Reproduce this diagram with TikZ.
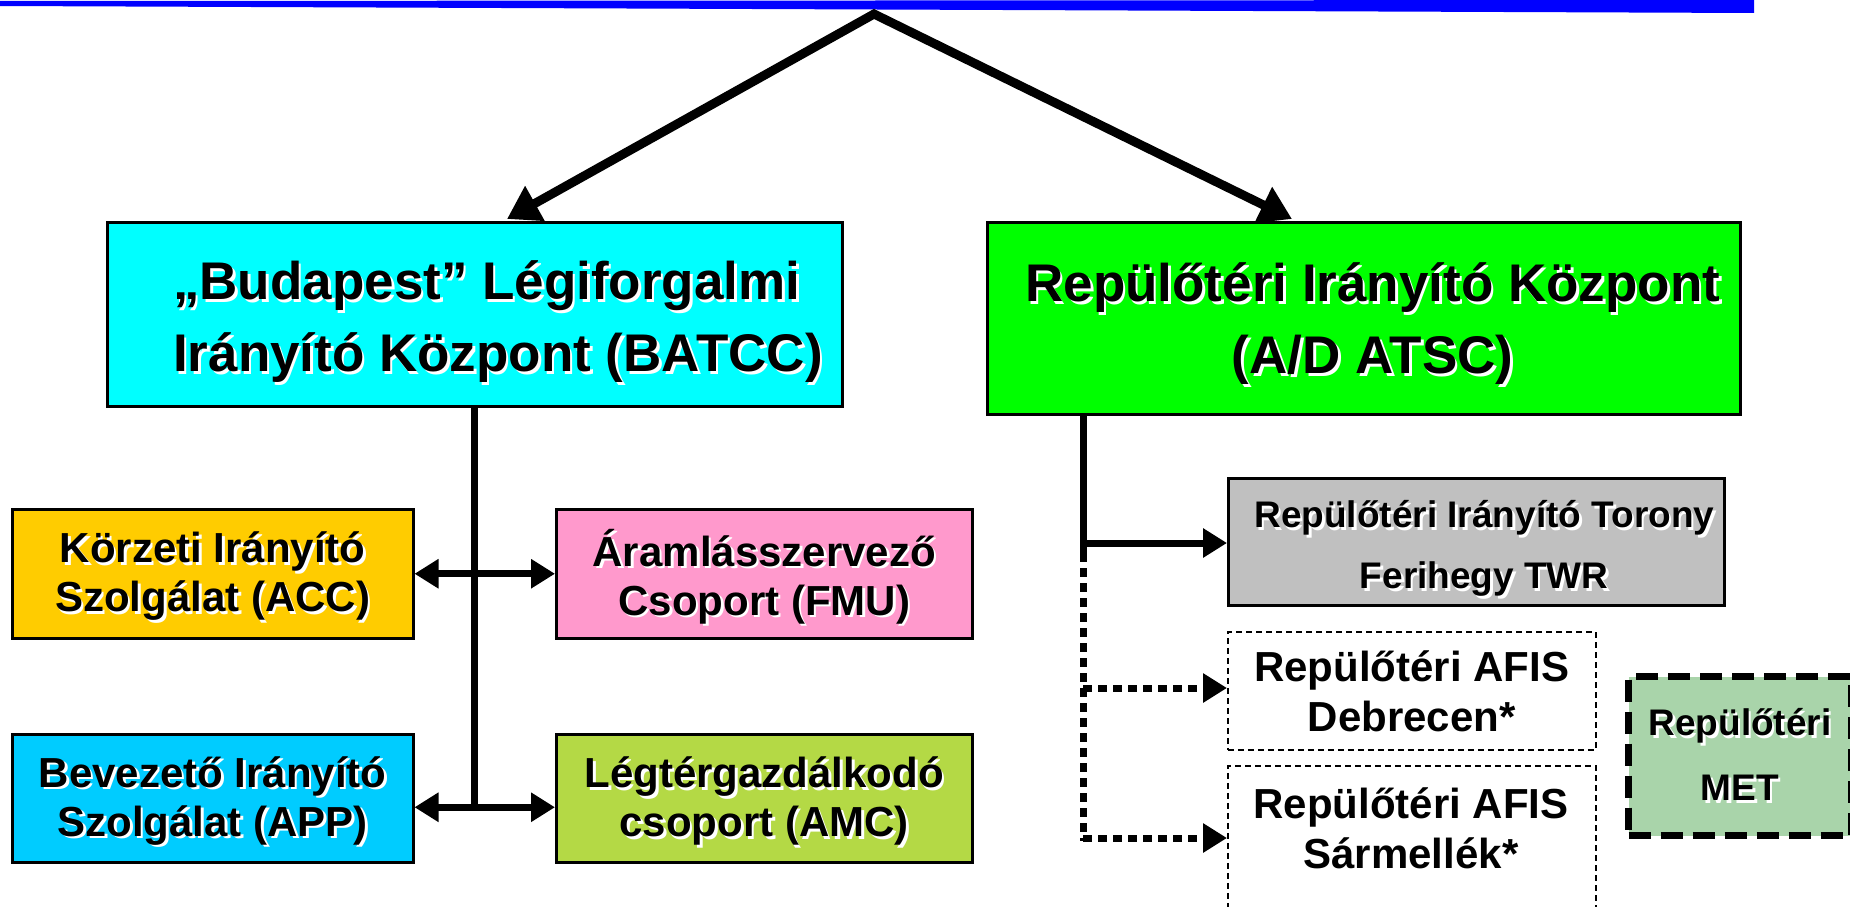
\documentclass[tikz,border=0pt]{standalone}
\usepackage{fontspec}
\setmainfont{Liberation Sans}
\usetikzlibrary{arrows.meta}
\definecolor{cbatcc}{RGB}{0,255,255}
\definecolor{cad}{RGB}{0,255,0}
\definecolor{cacc}{RGB}{255,204,0}
\definecolor{cfmu}{RGB}{255,153,204}
\definecolor{capp}{RGB}{0,204,255}
\definecolor{camc}{RGB}{180,217,69}
\definecolor{ctwr}{RGB}{192,192,192}
\definecolor{cmet}{RGB}{169,212,170}
\newcommand\shd[1]{\makebox[0pt][l]{\hspace{2.5pt}\raisebox{-2.5pt}{\color{white}#1}}#1}
\begin{document}
\begin{tikzpicture}[x=1pt,y=-1pt,
  box/.style={draw=black, line width=2.5pt, inner sep=0pt, anchor=north west},
  txt/.style={inner sep=0pt, align=center},
  fbig/.style={font=\fontsize{53pt}{72pt}\selectfont\bfseries},
  fmid/.style={font=\fontsize{42pt}{49pt}\selectfont\bfseries},
  fafis/.style={font=\fontsize{42pt}{50pt}\selectfont\bfseries},
  ftwr/.style={font=\fontsize{37pt}{61pt}\selectfont\bfseries},
  fmet/.style={font=\fontsize{37pt}{65pt}\selectfont\bfseries},
  topar/.style={line width=9pt, line join=miter, {Triangle[length=32pt,width=38pt]}-{Triangle[length=32pt,width=38pt]}},
  trunk/.style={line width=7pt},
  dbl/.style={line width=7pt, {Triangle[length=24pt,width=28pt]}-{Triangle[length=24pt,width=28pt]}},
  sarrow/.style={line width=7pt, -{Triangle[length=24pt,width=28pt]}},
  dotl/.style={line width=7pt, dash pattern=on 9pt off 6pt},
  darrow/.style={line width=7pt, dash pattern=on 9pt off 6pt, -{Triangle[length=24pt,width=28pt]}},
]
\useasboundingbox (0,0) rectangle (1850,907);
\fill[white] (0,0) rectangle (1850,907);
% blue bar
\fill[blue] (0,1) -- (1754,0) -- (1754,13) -- (0,6) -- cycle;

% boxes
\node[box, fill=cbatcc, minimum width=735pt, minimum height=184pt] (batcc) at (106,221) {};
\node[box, fill=cad, minimum width=753pt, minimum height=192pt] (ad) at (986,221) {};
\node[box, fill=cacc, minimum width=401pt, minimum height=129pt] (acc) at (11,508) {};
\node[box, fill=cfmu, minimum width=416pt, minimum height=129pt] (fmu) at (555,508) {};
\node[box, fill=capp, minimum width=401pt, minimum height=128pt] (app) at (11,733) {};
\node[box, fill=camc, minimum width=416pt, minimum height=128pt] (amc) at (555,733) {};
\node[box, fill=ctwr, minimum width=496pt, minimum height=127pt] (twr) at (1227,477) {};
\node[box, fill=white, line width=1.5pt, dash pattern=on 6pt off 4pt, minimum width=368pt, minimum height=118pt] (deb) at (1227,631) {};
\node[box, fill=white, line width=1.5pt, dash pattern=on 6pt off 4pt, minimum width=368pt, minimum height=147pt] (sar) at (1227,765) {};
\node[box, fill=cmet, line width=7pt, dash pattern=on 22pt off 10pt, minimum width=223pt, minimum height=159pt] (met) at (1625,673) {};

% texts
\node[txt, fbig, align=left, anchor=west] (batcct) at ([yshift=-9pt]batcc.center -| 173,0)
  {\shd{„Budapest” Légiforgalmi}\\ \shd{Irányító Központ (BATCC)}};
\node[txt, fbig] (adt) at ([xshift=9pt,yshift=-7pt]ad.center)
  {\shd{Repülőtéri Irányító Központ}\\ \shd{(A/D ATSC)}};
\node[txt, fmid] (acct) at ([yshift=-4pt]acc.center) {\shd{Körzeti Irányító}\\ \shd{Szolgálat (ACC)}};
\node[txt, fmid] (fmut) at ([yshift=-4pt]fmu.center) {\shd{Áramlásszervező}\\ \shd{Csoport (FMU)}};
\node[txt, fmid] (appt) at ([yshift=-4pt]app.center) {\shd{Bevezető Irányító}\\ \shd{Szolgálat (APP)}};
\node[txt, fmid] (amct) at ([yshift=-4pt]amc.center) {\shd{Légtérgazdálkodó}\\ \shd{csoport (AMC)}};
\node[txt, ftwr] (twrt) at ([xshift=8pt,yshift=-8pt]twr.center) {\shd{Repülőtéri Irányító Torony}\\ \shd{Ferihegy TWR}};
\node[txt, fafis] (debt) at ([yshift=-1pt]deb.center) {Repülőtéri AFIS\\ Debrecen*};
\node[txt, fafis] (sart) at (1411,828) {Repülőtéri AFIS\\ Sármellék*};
\node[txt, fmet] (mett) at (met.center) {\shd{Repülőtéri}\\ \shd{MET}};

% top arrows
\coordinate (apex) at (874,14);
\draw[topar] ([xshift=401pt,yshift=2pt]batcc.north west) -- (apex) -- ([xshift=306pt,yshift=2pt]ad.north west);

% left tree
\coordinate (ltop) at ([xshift=368pt]batcc.south west);
\coordinate (lbot) at (474,806);
\draw[trunk] (ltop) -- ([yshift=-3.5pt]lbot);
\draw[dbl] (acc.east) -- (fmu.west);
\draw[dbl] ([yshift=-9pt]app.east) -- ([yshift=-9pt]amc.west);

% right tree
\coordinate (rtop) at ([xshift=97pt]ad.south west);
\coordinate (rmid) at (1083,543);
\coordinate (rbot) at (1083,838);
\draw[trunk] (rtop) -- ([yshift=-10pt]rmid);
\draw[sarrow] (rmid) -- (twr.west |- rmid);
\draw[dotl] ([yshift=-10pt]rmid) -- ([yshift=-3pt]rbot);
\coordinate (rdeb) at (1083,688);
\draw[darrow] (rdeb) -- (deb.west |- rdeb);
\draw[darrow] (rbot) -- (sar.west |- rbot);
\end{tikzpicture}
\end{document}
